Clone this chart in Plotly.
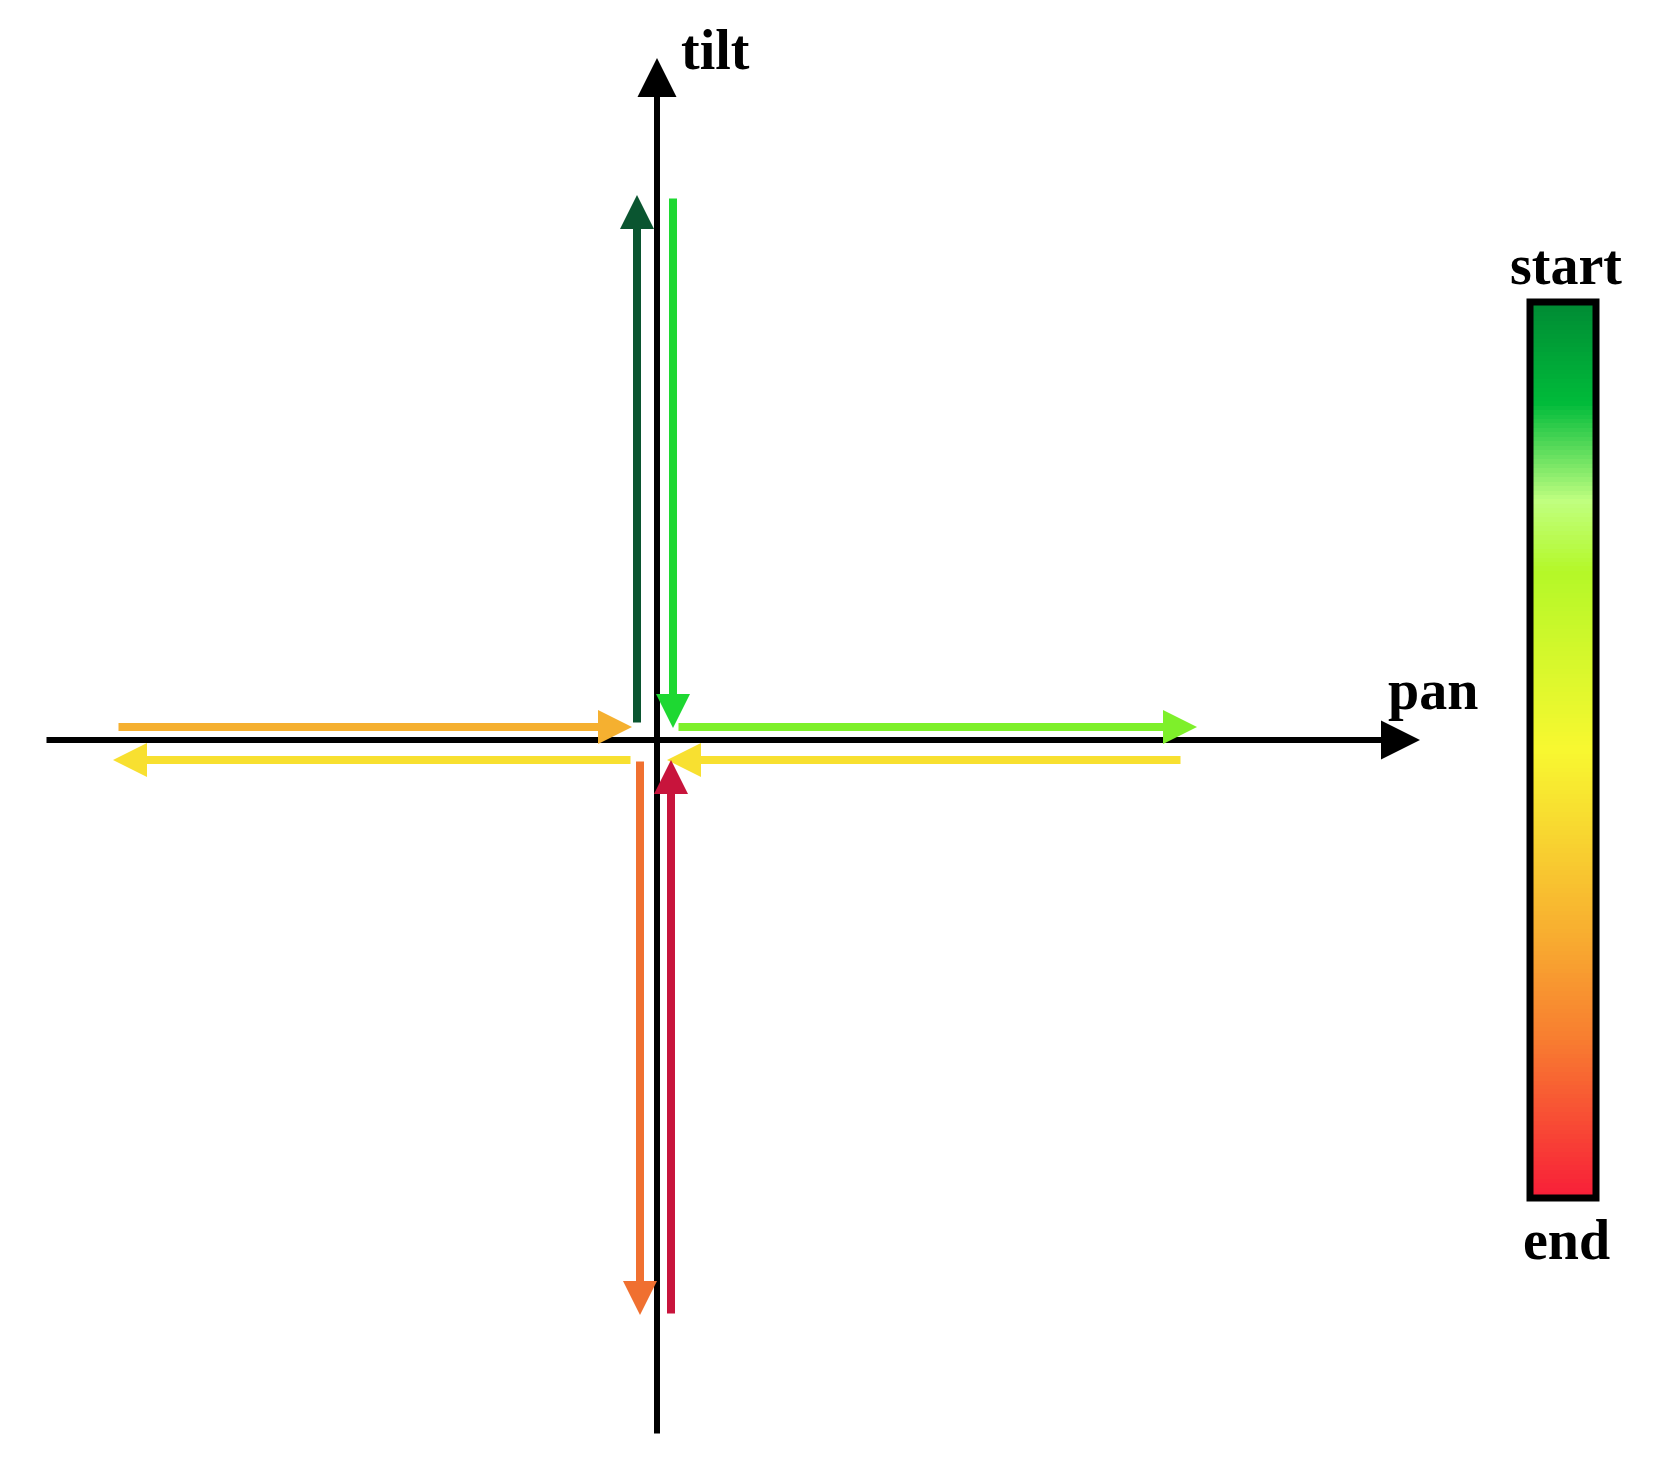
import plotly.graph_objects as go
import numpy as np

# motion sequence (pixel-space coordinates of the diagram), start -> end
arrow_names = ["up1", "down1", "right1", "left1", "up2", "down2", "left2", "right2"]
arrow_x0 = [637, 673, 677, 1182, 671, 640, 632, 117]
arrow_y0 = [724, 197, 727, 760, 1315, 760, 760, 727]
arrow_x1 = [637, 673, 1197, 667, 671, 640, 113, 632]
arrow_y1 = [195, 728, 727, 760, 760, 1315, 760, 727]
arrow_colors = ["#0a5530", "#1ed832", "#7ef02a", "#f8e030", "#c8143c", "#f07030", "#f8e030", "#f5b030"]

axis_labels = ["pan", "tilt"]
cbar_labels = ["start", "end"]
cbar_colorscale = [[0, "#008c34"], [0.11, "#00bb3a"], [0.22, "#c0ff80"], [0.3, "#b4f828"],
                   [0.5, "#f8f830"], [0.7, "#f8b030"], [0.82, "#f88030"], [1, "#f82038"]]

fig = go.Figure()

yy = np.linspace(305, 1195, 200)
fig.add_trace(go.Heatmap(x=[1548, 1578], y=yy, z=[[v, v] for v in np.linspace(0, 1, 200)],
                         colorscale=cbar_colorscale, showscale=False, hoverinfo="skip"))
fig.add_shape(type="rect", x0=1530, x1=1596, y0=302, y1=1198, line=dict(color="black", width=7))

fig.add_annotation(x=1420, y=740, ax=45, ay=740, xref="x", yref="y", axref="x", ayref="y",
                   showarrow=True, arrowhead=2, arrowsize=1.3, arrowwidth=6, arrowcolor="black", text="")
fig.add_annotation(x=657, y=58, ax=657, ay=1435, xref="x", yref="y", axref="x", ayref="y",
                   showarrow=True, arrowhead=2, arrowsize=1.3, arrowwidth=6, arrowcolor="black", text="")

for x0, y0, x1, y1, c in zip(arrow_x0, arrow_y0, arrow_x1, arrow_y1, arrow_colors):
    fig.add_annotation(x=x1, y=y1, ax=x0, ay=y0, xref="x", yref="y", axref="x", ayref="y",
                       showarrow=True, arrowhead=2, arrowsize=0.85, arrowwidth=8, arrowcolor=c, text="")

font = dict(family="Liberation Serif", size=56, color="black")
fig.add_annotation(x=1433, y=690, text="<b>" + axis_labels[0] + "</b>", showarrow=False, font=font)
fig.add_annotation(x=715, y=50, text="<b>" + axis_labels[1] + "</b>", showarrow=False, font=font)
fig.add_annotation(x=1566, y=265, text="<b>" + cbar_labels[0] + "</b>", showarrow=False, font=font)
fig.add_annotation(x=1566, y=1240, text="<b>" + cbar_labels[1] + "</b>", showarrow=False, font=font)

fig.update_xaxes(range=[8, 1668], visible=False)
fig.update_yaxes(range=[1481, 8], visible=False)
fig.update_layout(width=1660, height=1473, margin=dict(l=0, r=0, t=0, b=0),
                  plot_bgcolor="white", paper_bgcolor="white", showlegend=False)
fig.write_html("out.html")
